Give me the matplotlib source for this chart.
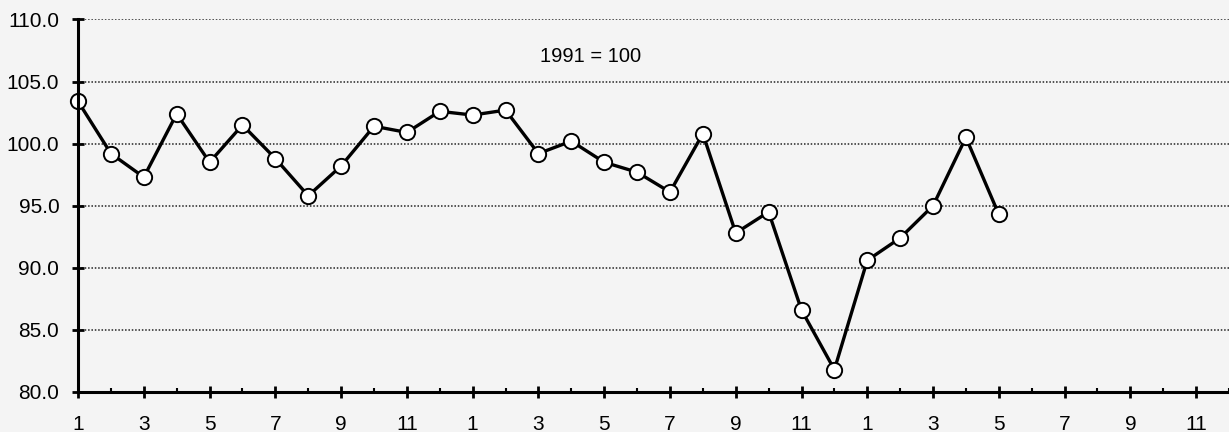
import numpy as np
import matplotlib.pyplot as plt
from matplotlib.ticker import MultipleLocator

# Monthly index, 1991 = 100 (months 1..29 over three years)
months = np.arange(1, 30)
index_values = [
    103.4, 99.2, 97.3, 102.4, 98.5, 101.5, 98.8, 95.8, 98.2, 101.4, 100.9,
    102.6, 102.3, 102.7, 99.2, 100.2, 98.5, 97.7, 96.1, 100.8, 92.8, 94.5,
    86.6, 81.8, 90.6, 92.4, 95.0, 100.5, 94.3,
]
tick_positions = np.arange(1, 36, 2)
tick_labels = [str(m) for m in [1, 3, 5, 7, 9, 11] * 3]
y_ticks = np.arange(80, 111, 5)
note = "1991 = 100"

plt.rcParams["font.family"] = ["Liberation Sans", "DejaVu Sans"]
bg = "#f4f4f4"

fig = plt.figure(figsize=(12.29, 4.32), dpi=100, facecolor=bg)
ax = fig.add_axes([0.0635, 0.0926, 0.9365, 0.8624])
ax.set_facecolor(bg)

# Dotted horizontal gridlines
for yv in y_ticks[1:]:
    ax.axhline(yv, color="#222222", lw=1.1, ls=(0, (1, 1.2)), zorder=1)

ax.plot(months, index_values, color="black", lw=2.4, marker="o", ms=11,
        mfc="white", mec="black", mew=1.4, zorder=3, clip_on=False)

ax.text(16.6, 107.0, note, fontsize=14.5, ha="center", va="center")

ax.set_xlim(1, 36)
ax.set_ylim(80, 110)
ax.set_xticks(tick_positions)
ax.set_xticklabels(tick_labels)
ax.xaxis.set_minor_locator(MultipleLocator(1))
ax.set_yticks(y_ticks)
ax.set_yticklabels([f"{v:.1f}" for v in y_ticks])

for side in ["top", "right"]:
    ax.spines[side].set_visible(False)
for side in ["left", "bottom"]:
    ax.spines[side].set_linewidth(2.2)
    ax.spines[side].set_zorder(4)

ax.tick_params(axis="both", which="major", direction="inout", length=9,
               width=2, labelsize=15)
ax.tick_params(axis="y", which="major", pad=9)
ax.tick_params(axis="x", which="major", pad=12)
ax.tick_params(axis="x", which="minor", direction="in", length=3, width=1.5)

plt.savefig("out.png", dpi=100, facecolor=bg)
